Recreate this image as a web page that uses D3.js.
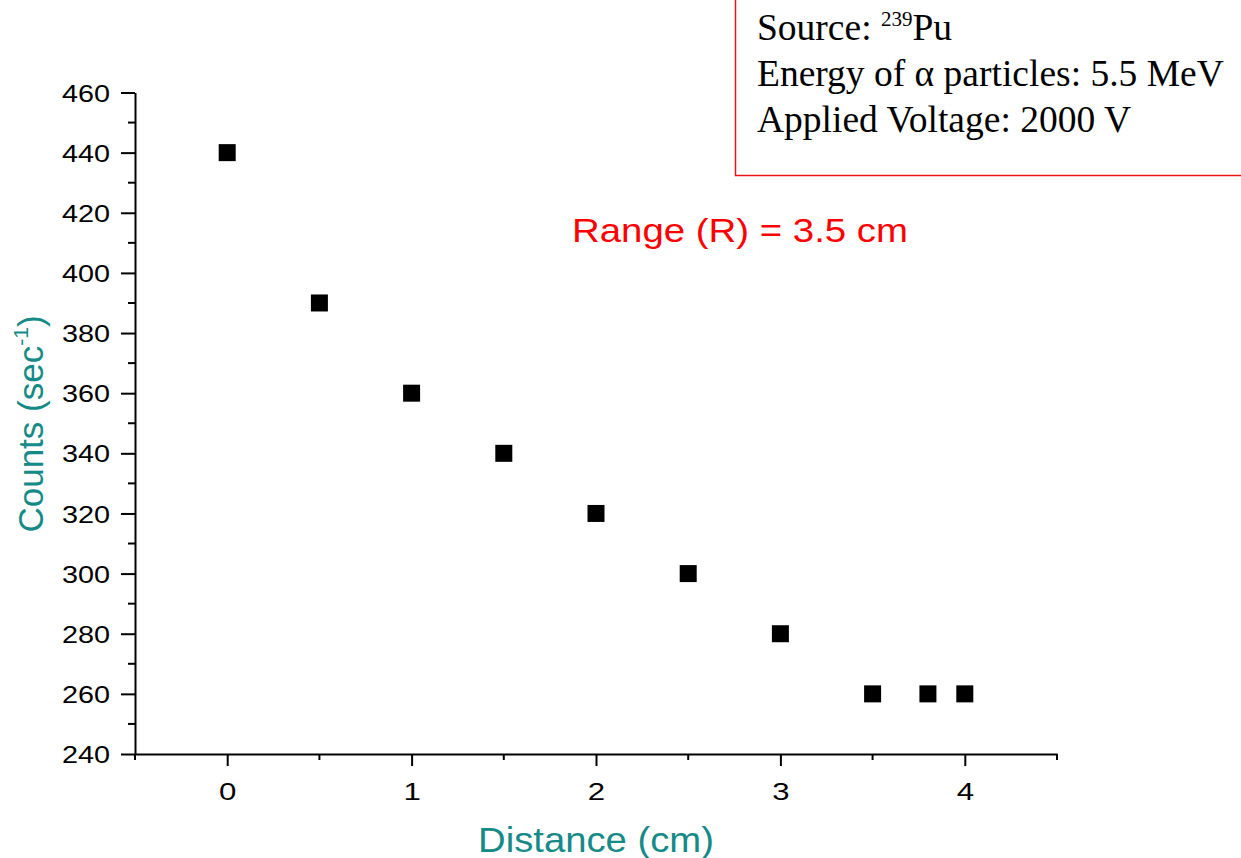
<!DOCTYPE html>
<html><head><meta charset="utf-8">
<script src="https://cdn.jsdelivr.net/npm/d3@7"></script>
<style>body{margin:0;background:#fff;} svg{display:block;}</style>
</head><body>
<svg id="c" width="1241" height="858"></svg>
<script>
const distance = [0, 0.5, 1, 1.5, 2, 2.5, 3, 3.5, 3.8, 4];
const counts = [440, 390, 360, 340, 320, 300, 280, 260, 260, 260];
const xTicks = [0, 1, 2, 3, 4];
const yTicks = [240, 260, 280, 300, 320, 340, 360, 380, 400, 420, 440, 460];
const infoLines = ["Energy of α particles: 5.5 MeV", "Applied Voltage: 2000 V"];
const rangeLabel = "Range (R) = 3.5 cm";

const svg = d3.select("#c");
const x = d3.scaleLinear().domain([-0.5, 4.5]).range([135, 1057]);
const y = d3.scaleLinear().domain([240, 460]).range([754, 92.5]);
const teal = "#168a87";
const sans = "Liberation Sans, Arial, sans-serif";
const serif = "Liberation Serif, Times New Roman, serif";
const sx = 1.2;

const xMinor = d3.range(-0.5, 4.51, 0.5).filter(v => Math.abs(v - Math.round(v)) > 0.01);
const yMinor = d3.range(250, 460, 20);

const gx = svg.append("g").attr("transform", `translate(0,${y(240)})`)
  .call(d3.axisBottom(x).tickValues(xTicks).tickFormat(d3.format("d")).tickSize(12).tickSizeOuter(0));
gx.selectAll(".tick text").attr("font-family", sans).attr("font-size", 24).attr("fill", "#000")
  .attr("y", 46).attr("dy", 0).attr("transform", `scale(1.3,1)`);
gx.append("g").selectAll("line").data(xMinor).join("line")
  .attr("x1", d => x(d)).attr("x2", d => x(d)).attr("y1", 0).attr("y2", 6).attr("stroke", "#000").attr("stroke-width", 2);

const gy = svg.append("g").attr("transform", `translate(${x(-0.5)},0)`)
  .call(d3.axisLeft(y).tickValues(yTicks).tickSize(14).tickSizeOuter(0));
gy.selectAll(".tick text").attr("font-family", sans).attr("font-size", 24).attr("fill", "#000")
  .attr("x", -25 / sx).attr("dy", "0.36em").attr("transform", `scale(${sx},1)`);
gy.append("g").selectAll("line").data(yMinor).join("line")
  .attr("y1", d => y(d)).attr("y2", d => y(d)).attr("x1", 0).attr("x2", -7).attr("stroke", "#000").attr("stroke-width", 2);

svg.selectAll(".domain, .tick line").attr("stroke", "#000").attr("stroke-width", 2);

// points
const s = 17;
svg.append("g").selectAll("rect").data(distance).join("rect")
  .attr("x", (d) => x(d) - s / 2).attr("y", (d, i) => y(counts[i]) - s / 2)
  .attr("width", s).attr("height", s).attr("fill", "#000");

// axis titles
svg.append("text").attr("x", 596).attr("y", 852).attr("text-anchor", "middle")
  .attr("font-family", sans).attr("font-size", 35).attr("fill", teal)
  .attr("textLength", 236).attr("lengthAdjust", "spacingAndGlyphs")
  .text("Distance (cm)");
const yt = svg.append("text").attr("transform", "translate(43,424) rotate(-90)").attr("text-anchor", "middle")
  .attr("font-family", sans).attr("font-size", 35).attr("fill", teal);
yt.append("tspan").text("Counts (sec");
yt.append("tspan").attr("font-size", 21).attr("dy", -15).text("-1");
yt.append("tspan").attr("dy", 15).text(")");

// info box
svg.append("rect").attr("x", 735.5).attr("y", -5).attr("width", 520).attr("height", 180.5)
  .attr("fill", "none").attr("stroke", "#e8141b").attr("stroke-width", 1.5);
const src = svg.append("text").attr("x", 757).attr("y", 40)
  .attr("font-family", serif).attr("font-size", 37.5).attr("fill", "#000");
src.append("tspan").text("Source: ");
src.append("tspan").attr("font-size", 21).attr("dy", -14).text("239");
src.append("tspan").attr("dy", 14).text("Pu");
svg.append("g").selectAll("text").data(infoLines).join("text")
  .attr("x", 757).attr("y", (d, i) => 86 + i * 46)
  .attr("font-family", serif).attr("font-size", 37.5).attr("fill", "#000")
  .text(d => d);

svg.append("text").attr("x", 572).attr("y", 242)
  .attr("font-family", sans).attr("font-size", 34).attr("fill", "#ff0000")
  .attr("textLength", 336).attr("lengthAdjust", "spacingAndGlyphs")
  .text(rangeLabel);
</script>
</body></html>
